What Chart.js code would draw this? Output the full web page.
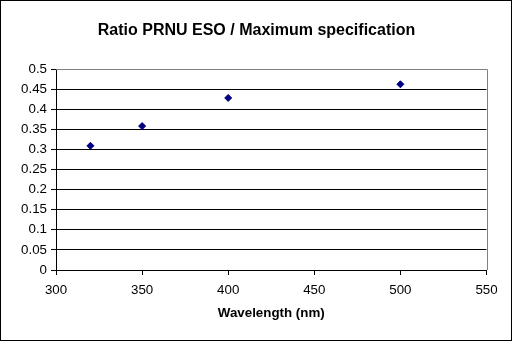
<!DOCTYPE html>
<html>
<head>
<meta charset="utf-8">
<title>Ratio PRNU ESO / Maximum specification</title>
<script src="https://cdn.jsdelivr.net/npm/chart.js@4/dist/chart.umd.min.js"></script>
<style>
  html, body { margin: 0; padding: 0; background: #ffffff; }
  #wrap { width: 513px; height: 341px; position: relative; }
  canvas { display: block; }
</style>
</head>
<body>
<div id="wrap"><canvas id="chart" width="513" height="341"></canvas></div>
<script>
// Measured wavelengths (nm) and PRNU ratio to the maximum specification
const wavelengths = [320, 350, 400, 500];
const prnuRatio = [0.309, 0.358, 0.428, 0.462];

// Axis ranges and tick steps
const xTicks = [300, 350, 400, 450, 500, 550];
const yTicks = [0, 0.05, 0.1, 0.15, 0.2, 0.25, 0.3, 0.35, 0.4, 0.45, 0.5];

const FONT = "'Liberation Sans', Arial, sans-serif";

// Frame around the whole figure plus grey top/right edges of the plot area
const framePlugin = {
  id: 'frame',
  beforeDraw(chart) {
    const ctx = chart.ctx;
    ctx.save();
    ctx.fillStyle = '#ffffff';
    ctx.fillRect(0, 0, chart.width, chart.height);
    ctx.restore();
  },
  afterDraw(chart) {
    const ctx = chart.ctx;
    const a = chart.chartArea;
    ctx.save();
    ctx.lineWidth = 1;
    ctx.strokeStyle = '#808080';
    ctx.beginPath();
    ctx.moveTo(a.left, Math.round(a.top) + 0.5);
    ctx.lineTo(Math.round(a.right) + 0.5, Math.round(a.top) + 0.5);
    ctx.lineTo(Math.round(a.right) + 0.5, a.bottom);
    ctx.stroke();
    ctx.strokeStyle = '#000000';
    ctx.strokeRect(0.5, 0.5, 511, 340);
    ctx.restore();
  }
};

new Chart(document.getElementById('chart'), {
  type: 'scatter',
  data: {
    datasets: [{
      label: 'PRNU ratio',
      data: wavelengths.map((w, i) => ({ x: w, y: prnuRatio[i] })),
      pointStyle: 'rectRot',
      pointRadius: 3.5,
      pointHoverRadius: 3.5,
      pointBackgroundColor: '#000080',
      pointBorderColor: '#000080',
      pointBorderWidth: 1,
      showLine: false
    }]
  },
  options: {
    responsive: false,
    animation: false,
    events: [],
    layout: { padding: 0 },
    plugins: {
      legend: { display: false },
      tooltip: { enabled: false },
      title: {
        display: true,
        text: 'Ratio PRNU ESO / Maximum specification',
        color: '#000000',
        font: { family: FONT, size: 16, weight: 'bold', lineHeight: 1.2 },
        padding: { top: 21.4, bottom: 28.4 }
      }
    },
    scales: {
      x: {
        type: 'linear',
        min: xTicks[0],
        max: xTicks[xTicks.length - 1],
        afterBuildTicks(scale) { scale.ticks = xTicks.map(v => ({ value: v })); },
        afterFit(scale) {
          scale.height = 71;
          // keep white space to the right of the plot area
          scale.paddingRight = 26.5;
        },
        ticks: {
          color: '#000000',
          font: { family: FONT, size: 13.33 },
          padding: 7,
          maxRotation: 0,
          autoSkip: false
        },
        grid: {
          drawOnChartArea: false,
          drawTicks: true,
          tickLength: 5,
          color: '#000000'
        },
        border: { display: true, color: '#000000', width: 1 },
        title: {
          display: true,
          text: 'Wavelength (nm)',
          color: '#000000',
          font: { family: FONT, size: 13.33, weight: 'bold', lineHeight: 1.2 },
          padding: { top: 0, bottom: 20 }
        }
      },
      y: {
        type: 'linear',
        min: yTicks[0],
        max: yTicks[yTicks.length - 1],
        afterBuildTicks(scale) { scale.ticks = yTicks.map(v => ({ value: v })); },
        afterFit(scale) { scale.width = 56; },
        ticks: {
          color: '#000000',
          font: { family: FONT, size: 13.33 },
          padding: 4,
          callback: v => String(Math.round(v * 100) / 100)
        },
        grid: {
          drawTicks: true,
          tickLength: 5,
          color: '#000000',
          lineWidth: 1
        },
        border: { display: true, color: '#000000', width: 1 }
      }
    }
  },
  plugins: [framePlugin]
});
</script>
</body>
</html>
